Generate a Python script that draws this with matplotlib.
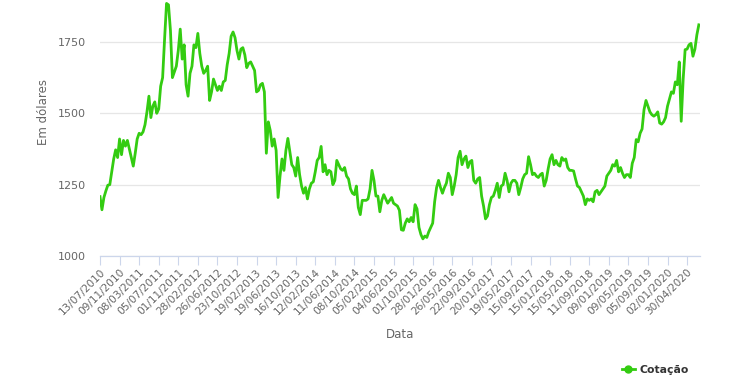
import matplotlib
matplotlib.use('Agg')
import matplotlib.pyplot as plt
from matplotlib.lines import Line2D
import numpy as np

# tick labels, one every 10 samples (a sample is roughly 12 days)
tick_labels = ['13/07/2010', '09/11/2010', '08/03/2011', '05/07/2011', '01/11/2011',
               '28/02/2012', '26/06/2012', '23/10/2012', '19/02/2013', '19/06/2013',
               '16/10/2013', '12/02/2014', '11/06/2014', '08/10/2014', '05/02/2015',
               '04/06/2015', '01/10/2015', '28/01/2016', '26/05/2016', '22/09/2016',
               '20/01/2017', '19/05/2017', '15/09/2017', '15/01/2018', '15/05/2018',
               '11/09/2018', '09/01/2019', '09/05/2019', '05/09/2019', '02/01/2020',
               '30/04/2020']
samples_per_tick = 10

# gold price (USD)
price = [
    1208, 1162, 1205, 1228, 1248, 1250, 1295, 1340, 1372, 1345,  # 2010
    1410, 1355, 1405, 1385, 1405, 1375, 1345, 1315, 1360, 1410,
    1430, 1425, 1435, 1460, 1505, 1560, 1485, 1525, 1540, 1500,  # 2011
    1515, 1595, 1625, 1760, 1885, 1880, 1790, 1625, 1645, 1665,
    1720, 1795, 1690, 1740, 1600, 1560, 1640, 1665, 1740, 1730,
    1780, 1710, 1665, 1640, 1650, 1665, 1545, 1575, 1620, 1600,  # 2012
    1580, 1595, 1580, 1610, 1615, 1670, 1710, 1770, 1785, 1765,
    1720, 1690, 1725, 1730, 1705, 1660, 1675, 1680, 1665, 1650,
    1575, 1580, 1600, 1605, 1575, 1360, 1470, 1440, 1385, 1410,  # 2013
    1370, 1205, 1280, 1340, 1300, 1370, 1412, 1365, 1320, 1310,
    1280, 1345, 1285, 1245, 1220, 1240, 1200, 1235, 1255, 1260,
    1295, 1335, 1345, 1384, 1295, 1320, 1285, 1300, 1295, 1250,  # 2014
    1265, 1335, 1320, 1305, 1300, 1310, 1280, 1270, 1235, 1220,
    1215, 1245, 1170, 1145, 1195, 1195, 1195, 1200, 1235, 1300,
    1265, 1210, 1210, 1155, 1195, 1215, 1200, 1185, 1195, 1205,  # 2015
    1185, 1180, 1175, 1160, 1092, 1090, 1115, 1130, 1120, 1135,
    1120, 1180, 1165, 1100, 1075, 1060, 1070, 1065, 1085, 1100,
    1115, 1190, 1240, 1265, 1240, 1220, 1240, 1255, 1290, 1275,  # 2016
    1215, 1245, 1285, 1345, 1367, 1320, 1340, 1350, 1310, 1330,
    1335, 1265, 1255, 1270, 1275, 1210, 1175, 1130, 1140, 1180,
    1205, 1210, 1230, 1255, 1205, 1245, 1250, 1290, 1265, 1225,  # 2017
    1255, 1265, 1265, 1255, 1215, 1240, 1270, 1285, 1290, 1348,
    1320, 1285, 1290, 1280, 1275, 1285, 1290, 1245, 1265, 1305,
    1340, 1355, 1320, 1335, 1320, 1315, 1345, 1335, 1340, 1310,  # 2018
    1300, 1300, 1298, 1270, 1245, 1240, 1225, 1210, 1180, 1200,
    1195, 1200, 1190, 1225, 1230, 1215, 1225, 1235, 1245, 1280,
    1290, 1300, 1320, 1315, 1335, 1295, 1310, 1290, 1275, 1285,  # 2019
    1285, 1275, 1325, 1345, 1408, 1400, 1430, 1445, 1513, 1545,
    1525, 1505, 1495, 1490, 1495, 1505, 1466, 1462, 1470, 1485,
    1525, 1550, 1575, 1570, 1610, 1600, 1680, 1472, 1620, 1723,  # 2020
    1725, 1740, 1745, 1700, 1725, 1775, 1810,
]

green = '#33cc11'
grey = '#666666'

fig = plt.figure(figsize=(7.4, 3.89), dpi=100)
ax = fig.add_axes([100 / 740, 1 - 256 / 389, 600 / 740, 256 / 389])

x = np.arange(len(price))
ax.plot(x, price, color=green, lw=2.0, solid_joinstyle='round')

ax.set_xlim(0, 306.6)
ax.set_ylim(1000, 1897)
ax.set_yticks([1000, 1250, 1500, 1750])
ax.set_xticks(np.arange(len(tick_labels)) * samples_per_tick)
ax.set_xticklabels(tick_labels, rotation=45, ha='right', rotation_mode='anchor',
                   fontsize=7.6, color=grey)
ax.tick_params(axis='x', length=6.5, width=0.8, color='#ccd6eb', pad=1.5)
ax.tick_params(axis='y', length=0, labelsize=8, labelcolor=grey, pad=10)

ax.grid(axis='y', color='#e6e6e6', lw=0.9)
ax.set_axisbelow(True)
for s in ['top', 'right', 'left']:
    ax.spines[s].set_visible(False)
ax.spines['bottom'].set_color('#ccd6eb')
ax.spines['bottom'].set_linewidth(0.9)

ax.set_ylabel('Em dólares', fontsize=8.5, color=grey)
ax.yaxis.set_label_coords(-0.083, 0.5625)
ax.set_xlabel('Data', fontsize=8.5, color=grey)
ax.xaxis.set_label_coords(0.5, -0.28)

handle = Line2D([], [], color=green, lw=2, marker='o', markersize=5)
leg = fig.legend([handle], ['Cotação'], loc='center left',
                 bbox_to_anchor=(612 / 740, 1 - 370 / 389), frameon=False,
                 handlelength=1.2, handletextpad=0.4,
                 prop={'size': 7.8, 'weight': 'bold'})
for t in leg.get_texts():
    t.set_color('#333333')

fig.savefig('out.png', dpi=100)
